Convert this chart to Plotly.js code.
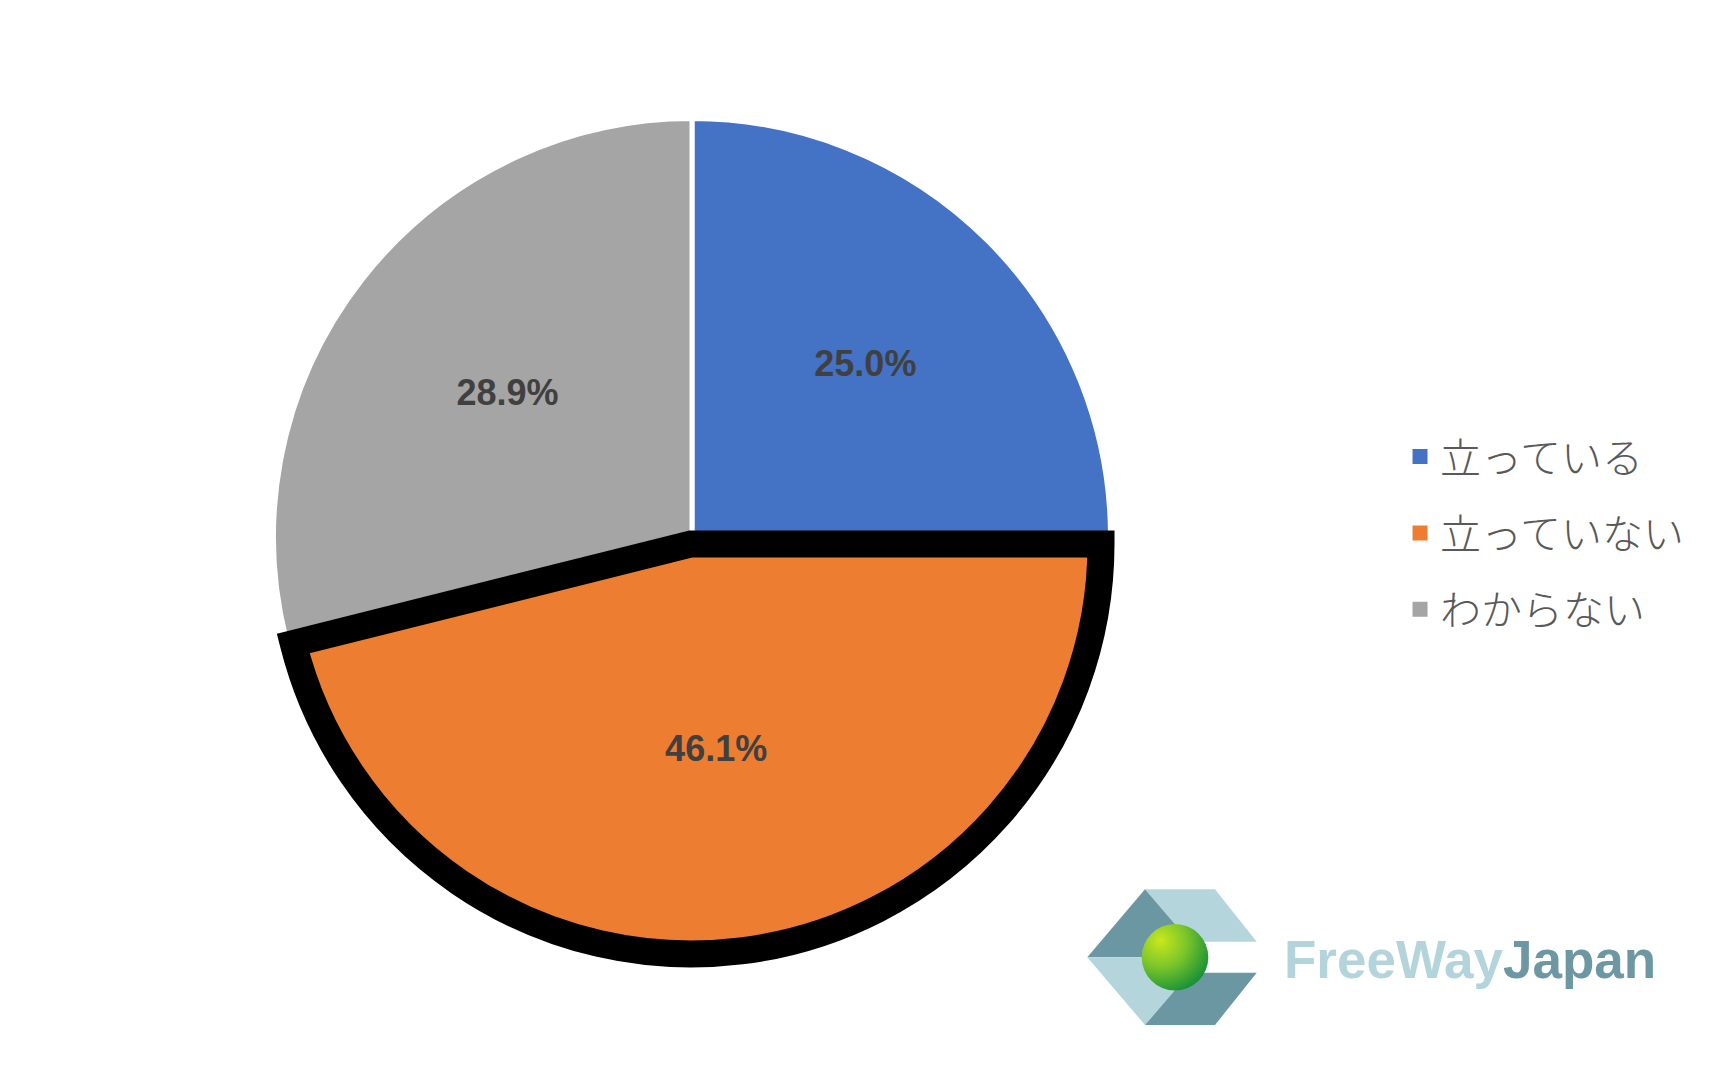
<!DOCTYPE html>
<html>
<head>
<meta charset="utf-8">
<script src="https://cdn.plot.ly/plotly-3.0.1.min.js"></script>
<style>html,body{margin:0;padding:0;background:#fff;}#chart{width:1734px;height:1072px;}</style>
</head>
<body>
<div id="chart"></div>
<script>
// ---- data ----
const categories = ['立っている', '立っていない', 'わからない'];
const values = [25.0, 46.1, 28.9];
const sliceColors = ['#4472c4', '#ed7d31', '#a5a5a5'];
const highlightIndex = 1;

// ---- build ----
const CLEAR = 'rgba(0,0,0,0)';
const labelFont = {family: 'Liberation Sans, Arial, sans-serif', size: 36, color: '#404040', weight: 'bold'};
const isHi = categories.map((c, i) => i === highlightIndex);

// base pie: regular slices (highlighted slice left empty)
const basePie = {
  type: 'pie',
  labels: categories,
  values: values,
  sort: false,
  direction: 'clockwise',
  rotation: 0,
  marker: {
    colors: sliceColors.map((c, i) => isHi[i] ? CLEAR : c),
    line: {color: '#ffffff', width: isHi.map(h => h ? 0 : 5)}
  },
  texttemplate: isHi.map(h => h ? '' : '%{percent:.1%}'),
  textposition: 'inside',
  insidetextorientation: 'horizontal',
  insidetextfont: labelFont,
  domain: {x: [0.15773, 0.64043], y: [0.10868, 0.88946]},
  showlegend: false,
  hoverinfo: 'label+percent'
};

// exploded, outlined highlighted slice
const hiPie = {
  type: 'pie',
  labels: categories,
  values: values,
  sort: false,
  direction: 'clockwise',
  rotation: 0,
  marker: {
    colors: sliceColors.map((c, i) => isHi[i] ? c : CLEAR),
    line: {color: '#000000', width: isHi.map(h => h ? 27 : 0)}
  },
  texttemplate: isHi.map(h => h ? '%{percent:.1%}' : ''),
  textposition: 'inside',
  insidetextorientation: 'horizontal',
  insidetextfont: labelFont,
  domain: {x: [0.16205, 0.63495], y: [0.11007, 0.875]},
  showlegend: false,
  hoverinfo: 'label+percent'
};

const legendTraces = categories.map((c, i) => ({
  type: 'scatter',
  mode: 'markers',
  x: [null], y: [null],
  name: c,
  legendgroup: 'g' + i,
  marker: {symbol: 'square', size: 15, color: sliceColors[i]},
  showlegend: true,
  hoverinfo: 'skip'
}));

// logo graphic (decoration)
const logoSvg = '<svg xmlns="http://www.w3.org/2000/svg" width="180" height="150" viewBox="0 0 180 150">' +
  '<defs><radialGradient id="g" cx="0.3" cy="0.28" r="0.85" fx="0.28" fy="0.25">' +
  '<stop offset="0" stop-color="#c9e81c"/><stop offset="0.45" stop-color="#7cc62a"/><stop offset="1" stop-color="#07883a"/></radialGradient></defs>' +
  '<polygon points="65,9.3 135,9.3 176.7,61.7 110,61.7" fill="#b5d5dc"/>' +
  '<polygon points="7.3,77.3 65,9.3 110,61.7 96.7,77.3" fill="#6b97a2"/>' +
  '<polygon points="7.3,77.3 96.7,77.3 110,92.7 65,145" fill="#b5d5dc"/>' +
  '<polygon points="110,92.7 176.7,92.7 135,145 65,145" fill="#6b97a2"/>' +
  '<circle cx="95" cy="77.3" r="33.3" fill="url(#g)"/>' +
  '</svg>';

const layout = {
  width: 1734,
  height: 1072,
  margin: {l: 0, r: 0, t: 0, b: 0},
  paper_bgcolor: '#ffffff',
  plot_bgcolor: '#ffffff',
  xaxis: {visible: false},
  yaxis: {visible: false},
  showlegend: true,
  legend: {
    x: 0.8074, y: 0.605, xanchor: 'left', yanchor: 'top',
    font: {family: 'Noto Sans CJK JP, sans-serif', size: 41, color: '#595959', weight: 300},
    tracegroupgap: 20,
    bgcolor: 'rgba(0,0,0,0)',
    itemclick: false, itemdoubleclick: false
  },
  images: [{
    source: 'data:image/svg+xml;charset=utf-8,' + encodeURIComponent(logoSvg),
    xref: 'paper', yref: 'paper',
    x: 1080 / 1734, y: 1 - 880 / 1072,
    sizex: 180 / 1734, sizey: 150 / 1072,
    xanchor: 'left', yanchor: 'top',
    sizing: 'stretch', layer: 'above'
  }],
  annotations: [{
    xref: 'paper', yref: 'paper',
    x: 1282 / 1734, y: 1 - 959 / 1072,
    xanchor: 'left', yanchor: 'middle',
    showarrow: false,
    text: '<span style="color:#b4d4dc">FreeWay</span><span style="color:#6d98a3">Japan</span>',
    font: {family: 'Liberation Sans, Arial, sans-serif', size: 53, weight: 'bold'}
  }]
};

Plotly.newPlot('chart', [basePie, hiPie].concat(legendTraces), layout, {staticPlot: true, displayModeBar: false})
  .then(gd => {
    gd.querySelectorAll('.pielayer path.surface').forEach(p => {
      p.style.strokeLinejoin = 'miter';
      p.style.strokeMiterlimit = '10';
    });
  });
</script>
</body>
</html>
